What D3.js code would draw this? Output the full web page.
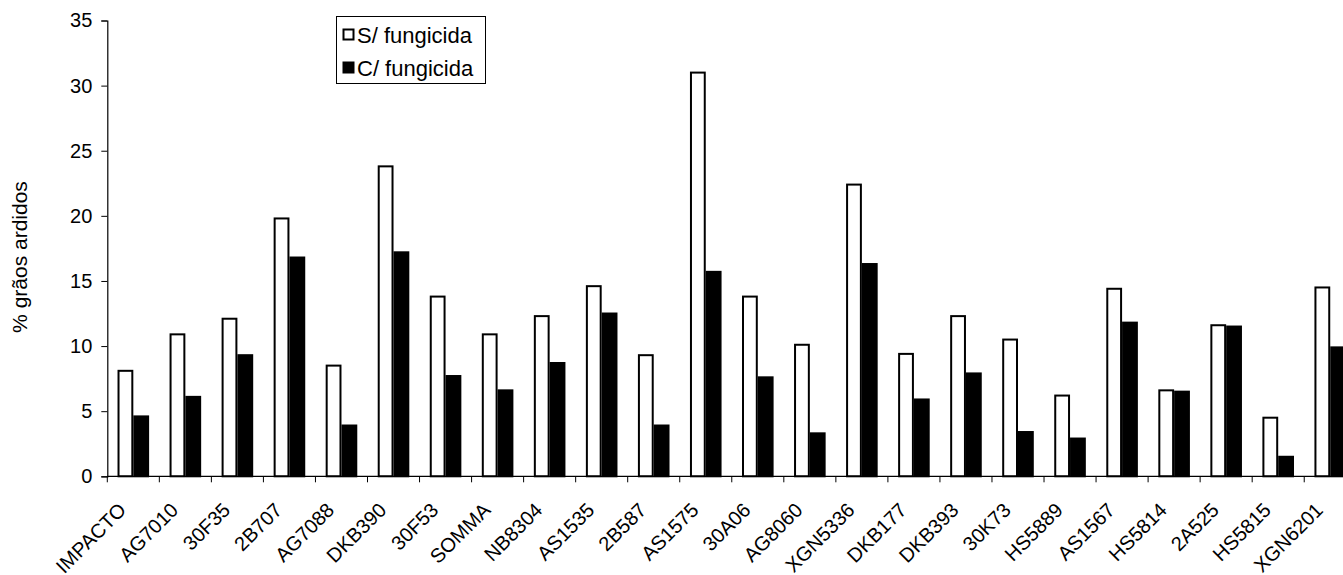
<!DOCTYPE html>
<html>
<head>
<meta charset="utf-8">
<script src="https://cdn.jsdelivr.net/npm/d3@7"></script>
<style>
  html, body { margin: 0; padding: 0; background: #fff; }
  svg { display: block; }
  text { font-family: "Liberation Sans", Arial, sans-serif; fill: #000; }
</style>
</head>
<body>
<svg id="chart" width="1343" height="575"></svg>
<script>
const categories = ["IMPACTO","AG7010","30F35","2B707","AG7088","DKB390","30F53","SOMMA","NB8304","AS1535","2B587","AS1575","30A06","AG8060","XGN5336","DKB177","DKB393","30K73","HS5889","AS1567","HS5814","2A525","HS5815","XGN6201"];
const semFungicida = [8.1,10.9,12.1,19.8,8.5,23.8,13.8,10.9,12.3,14.6,9.3,31.0,13.8,10.1,22.4,9.4,12.3,10.5,6.2,14.4,6.6,11.6,4.5,14.5];
const comFungicida = [4.6,6.1,9.3,16.8,3.9,17.2,7.7,6.6,8.7,12.5,3.9,15.7,7.6,3.3,16.3,5.9,7.9,3.4,2.9,11.8,6.5,11.5,1.5,9.9];
const seriesNames = ["S/ fungicida","C/ fungicida"];
const yTicks = [0,5,10,15,20,25,30,35];

const svg = d3.select("#chart");
const left = 107.3, zeroY = 476.3, topY = 20.5, step = 52.04;
const right = left + step * categories.length;

const x = d3.scaleBand().domain(categories).range([left, right]).padding(0);
const inner = d3.scaleBand().domain(seriesNames).range([0, x.bandwidth()]).paddingInner(0).paddingOuter(0.647);
const y = d3.scaleLinear().domain([0, 35]).range([zeroY, topY]);

const fills = {"S/ fungicida": "#fff", "C/ fungicida": "#000"};
const data = categories.map((c, i) => ({c, vals: [
  {s: seriesNames[0], v: semFungicida[i]},
  {s: seriesNames[1], v: comFungicida[i]}
]}));

const g = svg.append("g");
g.selectAll("g.cat").data(data).join("g")
  .attr("transform", d => `translate(${x(d.c)},0)`)
  .selectAll("rect").data(d => d.vals).join("rect")
  .attr("x", d => inner(d.s) + 1)
  .attr("width", inner.bandwidth() - 2)
  .attr("y", d => y(d.v))
  .attr("height", d => zeroY - y(d.v))
  .attr("fill", d => fills[d.s])
  .attr("stroke", "#000")
  .attr("stroke-width", 2);

// y axis
const yAxis = svg.append("g").attr("transform", `translate(${left},0)`)
  .call(d3.axisLeft(y).tickValues(yTicks).tickSize(6).tickPadding(9).tickFormat(d3.format("d")));
yAxis.select(".domain").attr("stroke", "#000").attr("stroke-width", 1.2);
yAxis.selectAll(".tick line").attr("stroke", "#000");
yAxis.selectAll(".tick text").attr("font-size", 20).attr("font-family", "Liberation Sans, Arial, sans-serif");

// x axis line and ticks at band boundaries
svg.append("line").attr("x1", left).attr("x2", right).attr("y1", zeroY).attr("y2", zeroY)
  .attr("stroke", "#000").attr("stroke-width", 1.2);
svg.append("g").selectAll("line").data(categories).join("line")
  .attr("x1", d => x(d)).attr("x2", d => x(d))
  .attr("y1", zeroY).attr("y2", zeroY + 6)
  .attr("stroke", "#000");

svg.append("g").selectAll("text").data(categories).join("text")
  .attr("transform", d => `translate(${x(d) + x.bandwidth() / 2 - 6},${zeroY + 35}) rotate(-45)`)
  .attr("text-anchor", "end")
  .attr("font-size", 20)
  .text(d => d);

// y title
svg.append("text")
  .attr("transform", `translate(27,257) rotate(-90)`)
  .attr("text-anchor", "middle")
  .attr("font-size", 21)
  .text("% grãos ardidos");

// legend
const lg = svg.append("g");
lg.append("rect").attr("x", 336.5).attr("y", 16.5).attr("width", 149).attr("height", 67)
  .attr("fill", "#fff").attr("stroke", "#000").attr("stroke-width", 1);
seriesNames.forEach((s, i) => {
  const cy = 35 + i * 33;
  lg.append("rect").attr("x", 343.5).attr("y", cy - 5.5).attr("width", 10).attr("height", 10)
    .attr("fill", fills[s]).attr("stroke", "#000").attr("stroke-width", 2);
  lg.append("text").attr("x", 357).attr("y", cy + 8).attr("font-size", 22).text(s);
});
</script>
</body>
</html>
